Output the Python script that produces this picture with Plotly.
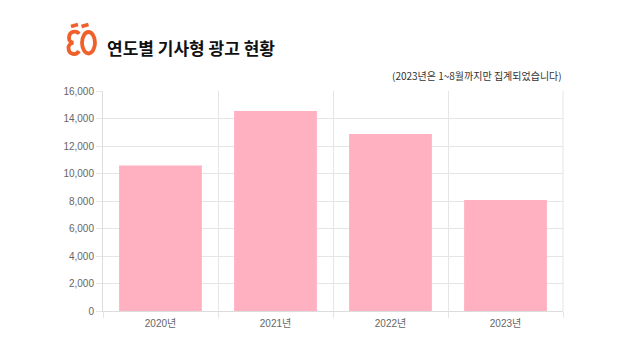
import plotly.graph_objects as go

years = ["2020년", "2021년", "2022년", "2023년"]
counts = [10580, 14550, 12870, 8070]
title_text = "연도별 기사형 광고 현황"
note_text = "(2023년은 1~8월까지만 집계되었습니다)"

OFF = 8  # page body margin
W, H = 640 - OFF, 360 - OFF
L, R, T, B = 103 - OFF, 563 - OFF, 91 - OFF, 311 - OFF


def px(x):
    return (x - OFF - L) / (R - L)


def py(y):
    return (B - (y - OFF)) / (B - T)


fig = go.Figure()
fig.add_trace(go.Bar(x=years, y=counts, marker=dict(color="#FFB1C1", line=dict(width=0)),
                     hoverinfo="x+y"))

grid = "#e5e5e5"
fig.update_layout(
    width=W, height=H,
    margin=dict(l=L, r=W - R, t=T, b=H - B),
    plot_bgcolor="white", paper_bgcolor="white",
    bargap=0.28, showlegend=False,
    font=dict(family="Liberation Sans, Arial, sans-serif", size=10, color="#666"),
    xaxis=dict(type="category", tickson="boundaries", showgrid=True, gridcolor=grid,
               ticks="outside", ticklen=6, tickcolor=grid, showline=True, linecolor="#dcdcdc",
               mirror=False, ticklabelstandoff=3,
               tickfont=dict(size=10, color="#666",
                             family="Liberation Sans, Noto Sans CJK KR, sans-serif"),
               fixedrange=True),
    yaxis=dict(range=[0, 16000], dtick=2000, tickformat=",", showgrid=True, gridcolor=grid,
               ticks="outside", ticklen=6, tickcolor=grid, showline=True, linecolor="#dcdcdc",
               zeroline=False, tickfont=dict(size=10, color="#666"), fixedrange=True),
)

# right border
fig.add_shape(type="line", xref="paper", yref="paper", x0=1, x1=1, y0=0, y1=1,
              line=dict(color=grid, width=1))

# title and note
fig.add_annotation(text=f"<b>{title_text}</b>", xref="paper", yref="paper",
                   x=px(105), y=py(47), xanchor="left", yanchor="middle", showarrow=False,
                   font=dict(family="Noto Sans CJK KR", size=17, color="#111"))
fig.add_annotation(text=note_text, xref="paper", yref="paper",
                   x=px(564), y=py(75), xanchor="right", yanchor="middle", showarrow=False,
                   font=dict(family="Noto Sans CJK KR", size=10, color="#333"))

# logo
orange = "#F0602A"
lw = 3.8
# top dashes
fig.add_shape(type="line", xref="paper", yref="paper", x0=px(71), y0=py(26.5), x1=px(78), y1=py(24.5),
              line=dict(color=orange, width=lw))
fig.add_shape(type="line", xref="paper", yref="paper", x0=px(81.5), y0=py(26.5), x1=px(88.5), y1=py(24.5),
              line=dict(color=orange, width=lw))
# E-like shape: open curve
e_path = (f"M {px(79)},{py(34)} C {px(76.5)},{py(30)} {px(69)},{py(31)} {px(69)},{py(38)} "
          f"C {px(69)},{py(41)} {px(71)},{py(42.5)} {px(73.5)},{py(42.5)} "
          f"C {px(70)},{py(43)} {px(68.5)},{py(46)} {px(68.5)},{py(47.5)} "
          f"C {px(68.5)},{py(55.5)} {px(76.5)},{py(55.5)} {px(79)},{py(51)}")
fig.add_shape(type="path", xref="paper", yref="paper", path=e_path,
              line=dict(color=orange, width=lw))
# O shape
fig.add_shape(type="circle", xref="paper", yref="paper",
              x0=px(82), x1=px(95), y0=py(32), y1=py(53.5),
              line=dict(color=orange, width=lw))

fig.write_html("out.html")
